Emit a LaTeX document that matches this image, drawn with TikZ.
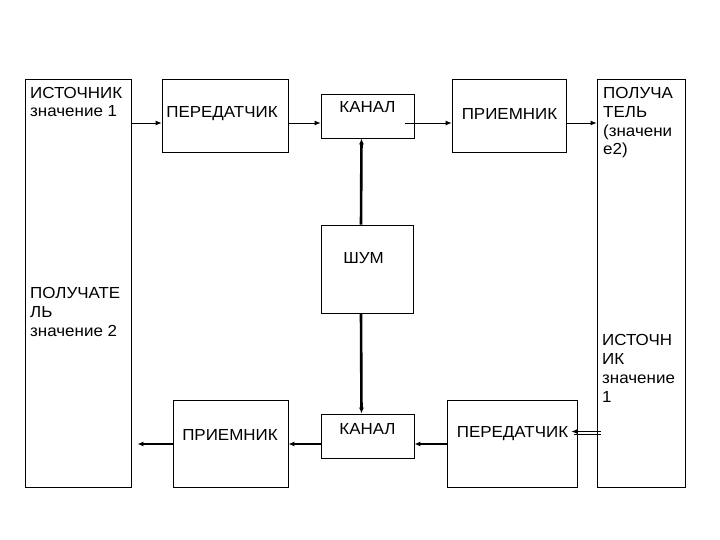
\documentclass[tikz,border=0pt]{standalone}
\usepackage{fontspec}
\setmainfont{Liberation Sans}[FakeStretch=1.06]
\usetikzlibrary{arrows.meta}

\tikzset{
  box/.style={draw, line width=0.8pt, inner sep=0pt},
  txt/.style={inner sep=0pt, font=\fontsize{16}{18.7}\selectfont, align=left},
  flow/.style={-{Latex[length=6pt,width=5pt]}, line width=0.8pt},
}

\begin{document}
\begin{tikzpicture}[x=1pt,y=-1pt]
\useasboundingbox (0,0) rectangle (720,540);

% blocks
\node[box, minimum width=106pt, minimum height=408pt] (srcA) at (78,283) {};
\node[box, minimum width=126pt, minimum height=73pt] (txA) at (225,115.5) {};
\node[box, minimum width=93pt, minimum height=44pt] (chA) at (367.5,116) {};
\node[box, minimum width=114pt, minimum height=73pt] (rxA) at (509,115.5) {};
\node[box, minimum width=88pt, minimum height=408pt] (dstA) at (641,283) {};
\node[box, minimum width=92pt, minimum height=88pt] (noise) at (367,269) {};
\node[box, minimum width=115pt, minimum height=87pt] (rxB) at (230.5,443.5) {};
\node[box, minimum width=93pt, minimum height=44pt] (chB) at (367.5,436) {};
\node[box, minimum width=130pt, minimum height=87pt] (txB) at (512,443.5) {};

% texts (base = last line)
\node[txt, anchor=base west] (lSrcA) at (30,117) {ИСТОЧНИК\\значение 1};
\node[txt, anchor=base west] (lDstB) at (30,336) {ПОЛУЧАТЕ\\ЛЬ\\значение 2};
\node[txt, anchor=base west] (lDstA) at (603,155) {ПОЛУЧА\\ТЕЛЬ\\(значени\\е2)};
\node[txt, anchor=base west] (lSrcB) at (602,402) {ИСТОЧН\\ИК\\значение\\1};
\node[txt, anchor=base] (lTxA) at (222,118) {ПЕРЕДАТЧИК};
\node[txt, anchor=base] (lChA) at (367.5,113) {КАНАЛ};
\node[txt, anchor=base] (lRxA) at (509.5,120) {ПРИЕМНИК};
\node[txt, anchor=base] (lNoise) at (363.5,263) {ШУМ};
\node[txt, anchor=base] (lRxB) at (230,440) {ПРИЕМНИК};
\node[txt, anchor=base] (lChB) at (367.5,434) {КАНАЛ};
\node[txt, anchor=base] (lTxB) at (512.5,437) {ПЕРЕДАТЧИК};

% rows of arrows
\coordinate (rowA) at (0,123);
\coordinate (rowB) at (0,444);
\coordinate (rowC) at (0,431.5);

\draw[flow] (srcA.east |- rowA) -- (txA.west |- rowA);
\draw[flow] (txA.east |- rowA) -- (chA.west |- rowA);
\draw[flow, shorten <=-9pt] (chA.east |- rowA) -- (rxA.west |- rowA);
\draw[flow] (rxA.east |- rowA) -- (dstA.west |- rowA);

\draw[flow, line width=2.6pt] ([xshift=-6pt]noise.north) -- ([xshift=-6pt]chA.south);
\draw[flow, line width=2.6pt] ([xshift=-6pt]noise.south) -- ([xshift=-6pt]chB.north);

\draw[flow, line width=1pt] ([xshift=4pt]dstA.west |- rowC) -- ([xshift=-6pt]txB.east |- rowC);
\draw[line width=0.8pt] ([xshift=4pt,yshift=-3pt]dstA.west |- rowC) -- ([xshift=-3pt,yshift=-3pt]txB.east |- rowC);
\draw[flow, line width=2pt] (txB.west |- rowB) -- (chB.east |- rowB);
\draw[flow, line width=2pt] (chB.west |- rowB) -- (rxB.east |- rowB);
\draw[flow, line width=1.3pt] (rxB.west |- rowB) -- ([xshift=6pt]srcA.east |- rowB);
\end{tikzpicture}
\end{document}
